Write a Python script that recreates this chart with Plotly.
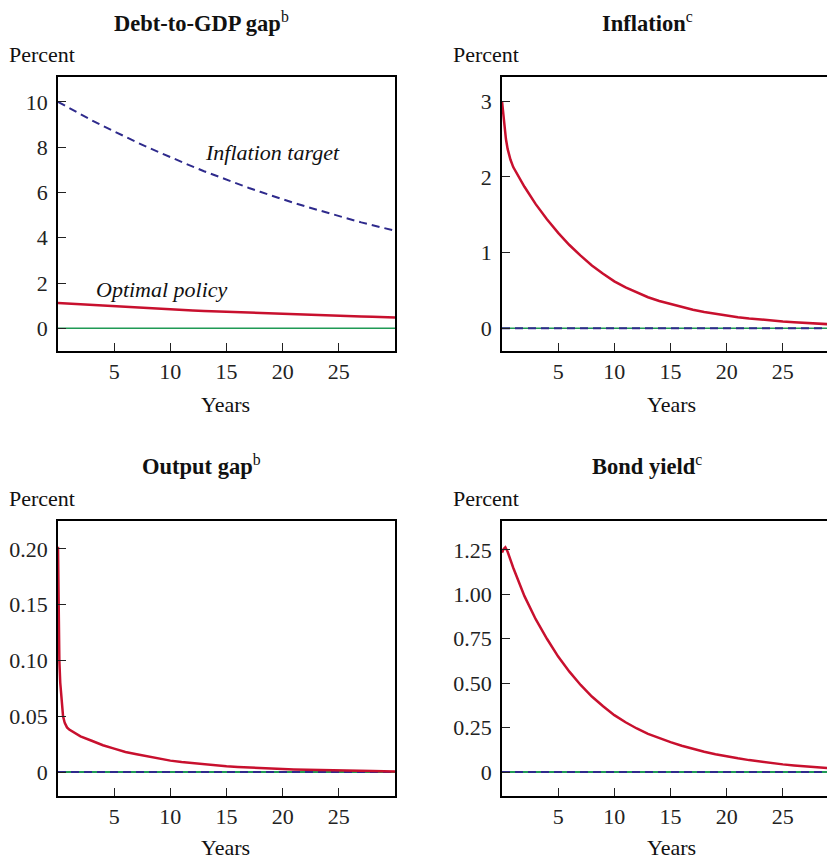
import plotly.graph_objects as go

# ---------------- data ----------------
years = list(range(0, 31))

debt_target = [10.0, 9.72, 9.45, 9.19, 8.94, 8.69, 8.45, 8.22, 7.99, 7.77, 7.55,
               7.34, 7.14, 6.94, 6.75, 6.56, 6.38, 6.20, 6.03, 5.86, 5.70,
               5.54, 5.39, 5.24, 5.09, 4.95, 4.82, 4.68, 4.55, 4.43, 4.31]
debt_optimal = [1.12, 1.09, 1.06, 1.03, 1.00, 0.97, 0.94, 0.92, 0.89, 0.87, 0.84,
                0.82, 0.79, 0.77, 0.75, 0.73, 0.71, 0.69, 0.67, 0.65, 0.63,
                0.62, 0.60, 0.58, 0.57, 0.55, 0.54, 0.52, 0.51, 0.49, 0.48]
zero_line = [0.0] * 31

infl_t = [0, 0.1, 0.2, 0.35, 0.5, 0.75, 1, 1.5, 2, 3, 4, 5, 6, 7, 8, 9, 10,
          11, 12, 13, 14, 15, 16, 17, 18, 19, 20, 21, 22, 23, 24, 25, 26, 27, 28, 29, 30]
infl_opt = [3.00, 2.85, 2.68, 2.50, 2.37, 2.23, 2.13, 1.99, 1.87, 1.64, 1.44, 1.26,
            1.10, 0.96, 0.83, 0.72, 0.62, 0.54, 0.47, 0.41, 0.36, 0.32, 0.28,
            0.245, 0.215, 0.19, 0.165, 0.147, 0.13, 0.115, 0.102, 0.09, 0.08,
            0.07, 0.06, 0.053, 0.046]

out_t = [0, 0.05, 0.12, 0.2, 0.3, 0.45, 0.6, 0.8, 1, 1.5, 2, 3, 4, 5, 6, 7, 8, 9, 10,
         11, 12, 13, 14, 15, 16, 17, 18, 19, 20, 21, 22, 23, 24, 25, 26, 27, 28, 29, 30]
out_opt = [0.202, 0.15, 0.10, 0.08, 0.065, 0.05, 0.044, 0.040, 0.038, 0.035, 0.032,
           0.028, 0.024, 0.021, 0.018, 0.016, 0.014, 0.0118, 0.0102, 0.0089, 0.0078,
           0.0068, 0.0059, 0.0051, 0.0045, 0.0039, 0.0034, 0.0030, 0.0026, 0.0023,
           0.0020, 0.0017, 0.0015, 0.0013, 0.0011, 0.0009, 0.0008, 0.0006, 0.0005]

bond_t = [0, 0.15, 0.3, 0.5, 1, 2, 3, 4, 5, 6, 7, 8, 9, 10, 11, 12, 13, 14, 15,
          16, 17, 18, 19, 20, 21, 22, 23, 24, 25, 26, 27, 28, 29, 30]
bond_opt = [1.235, 1.255, 1.265, 1.24, 1.15, 0.99, 0.86, 0.75, 0.65, 0.565, 0.49,
            0.425, 0.37, 0.32, 0.28, 0.245, 0.215, 0.19, 0.168, 0.148, 0.13, 0.114,
            0.10, 0.087, 0.077, 0.067, 0.058, 0.05, 0.043, 0.037, 0.032, 0.027,
            0.022, 0.018]

x_ticks = [5, 10, 15, 20, 25]
debt_ticks = [0, 2, 4, 6, 8, 10]
infl_ticks = [0, 1, 2, 3]
out_ticks = [0, 0.05, 0.10, 0.15, 0.20]
out_ticklabels = ["0", "0.05", "0.10", "0.15", "0.20"]
bond_ticks = [0, 0.25, 0.50, 0.75, 1.00, 1.25]
bond_ticklabels = ["0", "0.25", "0.50", "0.75", "1.00", "1.25"]

# ---------------- styling ----------------
OFF = 8                      # page body margin offset
W, H = 835 - OFF, 857 - OFF  # figure size so that it fits the window
RED = "#c8102e"
BLUE = "#2e2a8c"
GREEN = "#1f9a55"
FONT = "Liberation Serif, Times New Roman, serif"
FS = 22


def px(x):
    return (x - OFF) / W


def py(y):
    return 1 - (y - OFF) / H


fig = go.Figure()

def add(xs, ys, axis, color, width, dash="solid"):
    fig.add_trace(go.Scatter(x=xs, y=ys, xaxis="x" + axis, yaxis="y" + axis,
                             mode="lines", line=dict(color=color, width=width, dash=dash),
                             showlegend=False, hoverinfo="skip"))

DASH = "8px,5px"
# panel 1
add(years, zero_line, "", GREEN, 1.5)
add(years, debt_target, "", BLUE, 2, DASH)
add(years, debt_optimal, "", RED, 2.5)
# panel 2
add(years, zero_line, "2", GREEN, 1.5)
add(years, zero_line, "2", BLUE, 2, DASH)
add(infl_t, infl_opt, "2", RED, 2.5)
# panel 3
add(years, zero_line, "3", GREEN, 2)
add(years, zero_line, "3", BLUE, 2, DASH)
add(out_t, out_opt, "3", RED, 2.5)
# panel 4
add(years, zero_line, "4", GREEN, 2)
add(years, zero_line, "4", BLUE, 2, DASH)
add(bond_t, bond_opt, "4", RED, 2.5)

L0, L1 = 58, 395
R0, R1 = 502, 839
right_end = 30 * (835 - R0) / (R1 - R0)


def xax(dom, anchor, rng, mirror):
    return dict(domain=dom, anchor=anchor, range=rng, tickvals=x_ticks,
                ticks="inside", ticklen=8, tickwidth=1.3, tickcolor="#222",
                showline=True, linecolor="black", linewidth=1.6, mirror=mirror,
                showgrid=False, zeroline=False,
                tickfont=dict(family=FONT, size=FS, color="#222"))


def yax(dom, anchor, rng, vals, texts, mirror):
    return dict(domain=dom, anchor=anchor, range=rng, tickvals=vals, ticktext=texts,
                ticks="inside", ticklen=8, tickwidth=1.3, tickcolor="#222",
                showline=True, linecolor="black", linewidth=1.6, mirror=mirror,
                showgrid=False, zeroline=False, ticklabelstandoff=4,
                tickfont=dict(family=FONT, size=FS, color="#222"))

top_dom = [py(351), py(77)]
bot_dom = [py(796), py(521)]

fig.update_layout(
    width=W, height=H,
    margin=dict(l=0, r=0, t=0, b=0, autoexpand=False),
    paper_bgcolor="white", plot_bgcolor="white",
    xaxis=xax([px(L0), px(L1)], "y", [0, 30], True),
    yaxis=yax(top_dom, "x", [-1.0, 11.1], debt_ticks, [str(v) for v in debt_ticks], True),
    xaxis2=xax([px(R0), 1], "y2", [0, right_end], True),
    yaxis2=yax(top_dom, "x2", [-0.30, 3.32], infl_ticks, [str(v) for v in infl_ticks], False),
    xaxis3=xax([px(L0), px(L1)], "y3", [0, 30], True),
    yaxis3=yax(bot_dom, "x3", [-0.0215, 0.225], out_ticks, out_ticklabels, True),
    xaxis4=xax([px(R0), 1], "y4", [0, right_end], True),
    yaxis4=yax(bot_dom, "x4", [-0.135, 1.413], bond_ticks, bond_ticklabels, False),
)

def text(x, y, s, size=FS, xanchor="center"):
    fig.add_annotation(x=px(x), y=py(y), xref="paper", yref="paper", text=s,
                       showarrow=False, xanchor=xanchor, yanchor="middle",
                       font=dict(family=FONT, size=size, color="#111"))

text(201, 22, "<b>Debt-to-GDP gap</b><sup>b</sup>", size=22.5)
text(647, 22, "<b>Inflation</b><sup>c</sup>", size=22.5)
text(201, 465, "<b>Output gap</b><sup>b</sup>", size=22.5)
text(647, 465, "<b>Bond yield</b><sup>c</sup>", size=22.5)
for (x, y) in [(7, 54), (451, 54), (7, 498), (451, 498)]:
    text(x, y, "Percent", xanchor="left")
for (x, y) in [(226, 404), (671, 404), (226, 847), (671, 847)]:
    text(x, y, "Years")
text(272, 152, "<i>Inflation target</i>")
text(162, 290, "<i>Optimal policy</i>")

fig.write_html("out.html")
